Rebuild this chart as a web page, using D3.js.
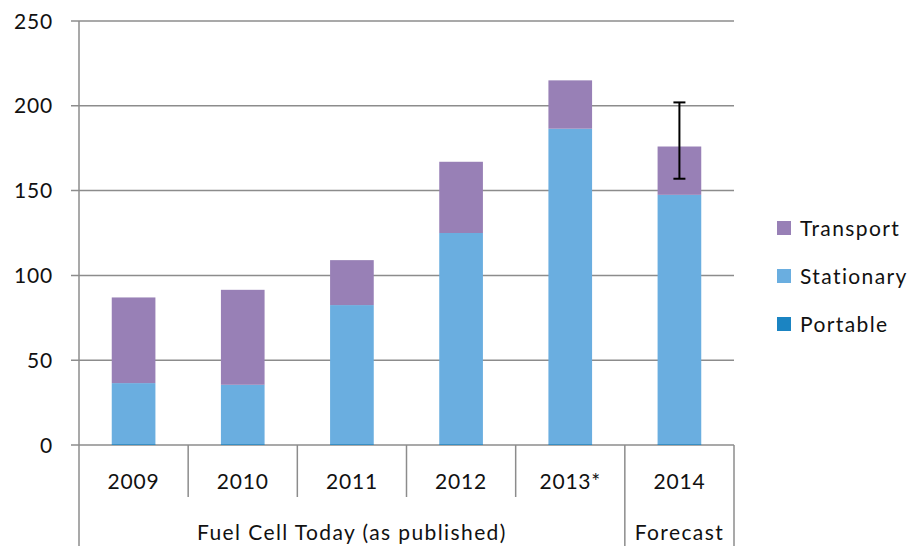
<!DOCTYPE html>
<html lang="en">
<head>
    <meta charset="UTF-8">
    <title>Fuel cell shipments</title>
    <script src="https://d3js.org/d3.v7.min.js"></script>
    <style>
        body { margin: 0; background: #fff; }
        text { font-family: Lato, "Open Sans", sans-serif; fill: #111; }
        .grid line { stroke: #8c8c8c; stroke-width: 1.5; }
        .frame { stroke: #8c8c8c; stroke-width: 1.5; fill: none; }
        .wide { letter-spacing: 1.4px; }
        .yr { letter-spacing: 0.8px; }
    </style>
</head>
<body>
    <script>
        // Data
        const years = ["2009", "2010", "2011", "2012", "2013*", "2014"];
        const portable = [0.5, 0.5, 0.5, 0.5, 0.5, 0.5];
        const stationary = [36, 35, 82, 124.5, 186, 147];
        const transport = [50.5, 56, 26.5, 42, 28.5, 28.5];
        const errLow = 157, errHigh = 202; // 2014 forecast range
        const yTicks = [0, 50, 100, 150, 200, 250];
        const groups = [
            {label: "Fuel Cell Today (as published)", from: "2009", to: "2013*"},
            {label: "Forecast", from: "2014", to: "2014"}
        ];
        const seriesNames = ["Portable", "Stationary", "Transport"];
        const colors = {Portable: "#1b84c2", Stationary: "#6aaee0", Transport: "#9880b6"};

        const margin = {top: 21, right: 177, bottom: 101, left: 79};
        const W = 911, H = 546;
        const width = W - margin.left - margin.right;
        const height = H - margin.top - margin.bottom;

        const svg = d3.select("body").append("svg")
            .attr("width", W).attr("height", H);
        const g = svg.append("g")
            .attr("transform", `translate(${margin.left},${margin.top})`);

        const x = d3.scaleBand().domain(years).range([0, width])
            .paddingInner(0.6).paddingOuter(0.3);
        const y = d3.scaleLinear().domain([0, 250]).range([height, 0]);

        // gridlines + y labels
        const grid = g.append("g").attr("class", "grid");
        grid.selectAll("line").data(yTicks).join("line")
            .attr("x1", -8).attr("x2", width)
            .attr("y1", d => y(d)).attr("y2", d => y(d));
        g.append("g").selectAll("text").data(yTicks).join("text")
            .attr("class", "yr")
            .attr("x", -26).attr("y", d => y(d)).attr("dy", "0.36em")
            .attr("text-anchor", "end").style("font-size", "21px")
            .text(d => d);

        // stacked bars
        const table = years.map((yr, i) => ({year: yr, Portable: portable[i], Stationary: stationary[i], Transport: transport[i]}));
        const stack = d3.stack().keys(seriesNames)(table);
        g.append("g").selectAll("g").data(stack).join("g")
            .attr("fill", d => colors[d.key])
            .selectAll("rect").data(d => d).join("rect")
            .attr("x", d => x(d.data.year))
            .attr("width", x.bandwidth())
            .attr("y", d => y(d[1]))
            .attr("height", d => y(d[0]) - y(d[1]));

        // error bar on 2014
        const ex = x("2014") + x.bandwidth() / 2;
        const eb = g.append("g").attr("stroke", "#000").attr("stroke-width", 2);
        eb.append("line").attr("x1", ex).attr("x2", ex).attr("y1", y(errHigh)).attr("y2", y(errLow));
        [errLow, errHigh].forEach(v => eb.append("line")
            .attr("x1", ex - 6).attr("x2", ex + 6).attr("y1", y(v)).attr("y2", y(v)));

        // axes frame
        const row1 = 52, row2 = H - margin.top - height;
        g.append("line").attr("class", "frame")
            .attr("x1", 0).attr("x2", 0).attr("y1", 0).attr("y2", height + row2);
        g.append("line").attr("class", "frame")
            .attr("x1", width).attr("x2", width).attr("y1", height).attr("y2", height + row2);
        // category separators
        years.slice(1).forEach(yr => {
            const bx = x(yr) - x.bandwidth() * 0.75;
            const isGroupEdge = groups.some(gr => gr.from === yr);
            g.append("line").attr("class", "frame")
                .attr("x1", bx).attr("x2", bx)
                .attr("y1", height).attr("y2", height + (isGroupEdge ? row2 : row1));
        });

        // category labels
        g.append("g").selectAll("text").data(years).join("text")
            .attr("class", "yr")
            .attr("x", d => x(d) + x.bandwidth() / 2).attr("y", height + 44)
            .attr("text-anchor", "middle").style("font-size", "21px")
            .text(d => d);
        g.append("g").selectAll("text").data(groups).join("text")
            .attr("class", "wide")
            .attr("x", d => (x(d.from) - x.bandwidth() * 0.75 + x(d.to) + x.bandwidth() * 1.75) / 2)
            .attr("y", height + 95)
            .attr("text-anchor", "middle").style("font-size", "21px")
            .text(d => d.label);

        // legend
        const legendItems = ["Transport", "Stationary", "Portable"];
        const lg = svg.append("g").attr("transform", "translate(777,221)");
        const li = lg.selectAll("g").data(legendItems).join("g")
            .attr("transform", (d, i) => `translate(0,${i * 48})`);
        li.append("rect").attr("width", 14).attr("height", 14).attr("fill", d => colors[d]);
        li.append("text").attr("class", "wide").attr("x", 23).attr("y", 7).attr("dy", "0.36em")
            .style("font-size", "21px").text(d => d);
    </script>
</body>
</html>
